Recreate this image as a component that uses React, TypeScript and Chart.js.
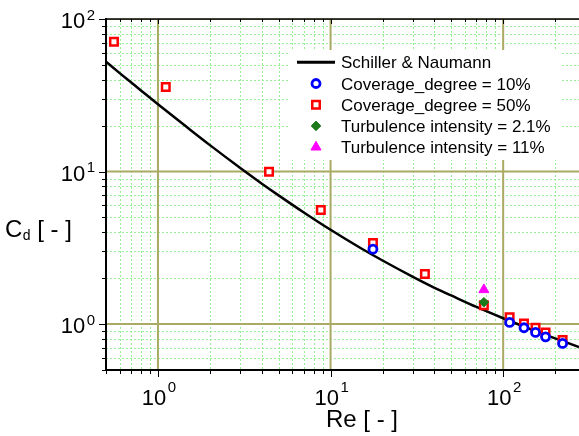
import React, { useEffect, useRef } from 'react';
import { Chart, registerables } from 'chart.js';

Chart.register(...registerables);

// ---- data ----
const curveRe = [0.5, 0.6, 0.8, 1, 1.5, 2, 3, 4, 5, 7, 10, 15, 20, 30, 40, 50, 70, 100, 150, 200, 275];
const curveCd = [52.5, 44.2, 33.9, 27.6, 19.2, 14.9, 10.55, 8.33, 6.98, 5.39, 4.15, 3.14, 2.61, 2.04, 1.73, 1.54, 1.295, 1.092, 0.91, 0.806, 0.708];

const cov10Re = [17.6, 109, 132, 154, 176, 221];
const cov10Cd = [3.1, 1.026, 0.946, 0.882, 0.825, 0.747];

const cov50Re = [0.556, 1.11, 4.4, 8.78, 17.6, 35.2, 77.3, 109, 132, 154, 176, 221];
const cov50Cd = [71, 35.8, 9.97, 5.6, 3.4, 2.13, 1.33, 1.107, 1.01, 0.946, 0.882, 0.785];

const ti21Re = [77.3];
const ti21Cd = [1.39];

const ti11Re = [77.3];
const ti11Cd = [1.68];

const seriesLabels = [
  'Schiller & Naumann',
  'Coverage_degree = 10%',
  'Coverage_degree = 50%',
  'Turbulence intensity = 2.1%',
  'Turbulence intensity = 11%',
];

const xMin = 0.5;
const xMax = 275;
const yMin = 0.5;
const yMax = 100;

const xTitle = 'Re [ - ]';
const yTitleMain = 'C';
const yTitleSub = 'd';
const yTitleRest = ' [ - ]';

const FONT = '"Liberation Sans", Arial, Helvetica, sans-serif';

const pts = (xs: number[], ys: number[]) => xs.map((x, i) => ({ x, y: ys[i] }));

function isDecade(v: number) {
  const e = Math.round(Math.log10(v));
  return Math.abs(v - Math.pow(10, e)) < 1e-9 * Math.pow(10, e);
}
function isRealTick(v: number) {
  const e = Math.floor(Math.log10(v) + 1e-9);
  const s = v / Math.pow(10, e);
  return Math.abs(s - Math.round(s)) < 1e-6;
}

function drawMarker(ctx: CanvasRenderingContext2D, style: string, x: number, y: number, r: number, fill: string, stroke: string, lw: number) {
  ctx.save();
  ctx.beginPath();
  if (style === 'circle') {
    ctx.arc(x, y, r, 0, Math.PI * 2);
  } else if (style === 'rect') {
    const s = r * Math.SQRT1_2;
    ctx.rect(x - s, y - s, 2 * s, 2 * s);
  } else if (style === 'rectRot') {
    ctx.moveTo(x - r, y);
    ctx.lineTo(x, y - r);
    ctx.lineTo(x + r, y);
    ctx.lineTo(x, y + r);
    ctx.closePath();
  } else if (style === 'triangle') {
    let a = 0;
    ctx.moveTo(x + Math.sin(a) * r, y - Math.cos(a) * r);
    a += (2 * Math.PI) / 3;
    ctx.lineTo(x + Math.sin(a) * r, y - Math.cos(a) * r);
    a += (2 * Math.PI) / 3;
    ctx.lineTo(x + Math.sin(a) * r, y - Math.cos(a) * r);
    ctx.closePath();
  }
  ctx.fillStyle = fill;
  ctx.fill();
  ctx.lineWidth = lw;
  ctx.strokeStyle = stroke;
  ctx.stroke();
  ctx.restore();
}

function drawPow(ctx: CanvasRenderingContext2D, exp: number, x: number, baseY: number, align: 'right' | 'center', baseSize: number, supSize: number, rise: number) {
  const baseFont = `${baseSize}px ${FONT}`;
  const supFont = `${supSize}px ${FONT}`;
  ctx.font = baseFont;
  const bw = ctx.measureText('10').width;
  ctx.font = supFont;
  const es = String(exp);
  const sw = ctx.measureText(es).width;
  const gap = 1.5;
  const total = bw + gap + sw;
  const x0 = align === 'right' ? x - total : x - total / 2;
  ctx.textAlign = 'left';
  ctx.textBaseline = 'alphabetic';
  ctx.fillStyle = '#000';
  ctx.font = baseFont;
  ctx.fillText('10', x0, baseY);
  ctx.font = supFont;
  ctx.fillText(es, x0 + bw + gap, baseY - rise);
}

const gridPlugin = {
  id: 'originGrid',
  beforeDatasetsDraw(chart: any) {
    const { ctx, chartArea: a, scales } = chart;
    const xs = scales.x;
    const ys = scales.y;
    ctx.save();
    ctx.beginPath();
    ctx.rect(a.left, a.top, a.right - a.left, a.bottom - a.top);
    ctx.clip();
    // minor dotted
    ctx.strokeStyle = 'rgb(150,238,150)';
    ctx.lineWidth = 1;
    ctx.setLineDash([2, 2]);
    ctx.beginPath();
    for (const t of xs.ticks) {
      if (!isRealTick(t.value) || isDecade(t.value)) continue;
      const px = Math.round(xs.getPixelForValue(t.value)) + 0.5;
      ctx.moveTo(px, a.top);
      ctx.lineTo(px, a.bottom);
    }
    for (const t of ys.ticks) {
      if (!isRealTick(t.value) || isDecade(t.value)) continue;
      const py = Math.round(ys.getPixelForValue(t.value)) + 0.5;
      ctx.moveTo(a.left, py);
      ctx.lineTo(a.right, py);
    }
    ctx.stroke();
    // major solid
    ctx.setLineDash([]);
    ctx.strokeStyle = 'rgb(170,170,100)';
    ctx.lineWidth = 2;
    ctx.beginPath();
    for (const t of xs.ticks) {
      if (!isDecade(t.value)) continue;
      const px = xs.getPixelForValue(t.value);
      ctx.moveTo(px, a.top);
      ctx.lineTo(px, a.bottom);
    }
    for (const t of ys.ticks) {
      if (!isDecade(t.value)) continue;
      const py = ys.getPixelForValue(t.value);
      ctx.moveTo(a.left, py);
      ctx.lineTo(a.right, py);
    }
    ctx.stroke();
    ctx.restore();
  },
};

const axesPlugin = {
  id: 'originAxes',
  afterDraw(chart: any) {
    const { ctx, chartArea: a, scales } = chart;
    const xs = scales.x;
    const ys = scales.y;
    ctx.save();
    ctx.strokeStyle = '#000';
    // tick marks
    ctx.lineWidth = 1;
    ctx.beginPath();
    for (const t of ys.ticks) {
      if (!isRealTick(t.value)) continue;
      const py = Math.round(ys.getPixelForValue(t.value)) + 0.5;
      const len = isDecade(t.value) ? 7 : 4;
      ctx.moveTo(a.left - len, py);
      ctx.lineTo(a.left, py);
    }
    for (const t of xs.ticks) {
      if (!isRealTick(t.value)) continue;
      const px = Math.round(xs.getPixelForValue(t.value)) + 0.5;
      const len = isDecade(t.value) ? 7 : 4;
      ctx.moveTo(px, a.bottom);
      ctx.lineTo(px, a.bottom + len);
      const tl = isDecade(t.value) ? 5 : 3;
      ctx.moveTo(px, a.top);
      ctx.lineTo(px, a.top + tl);
    }
    ctx.stroke();
    // axis lines
    ctx.lineWidth = 2;
    ctx.beginPath();
    ctx.moveTo(a.left, a.top - 1);
    ctx.lineTo(a.left, a.bottom + 1);
    ctx.moveTo(a.left - 1, a.bottom);
    ctx.lineTo(a.right, a.bottom);
    ctx.stroke();
    ctx.lineWidth = 1.5;
    ctx.beginPath();
    ctx.moveTo(a.left, a.top);
    ctx.lineTo(a.right, a.top);
    ctx.stroke();

    // tick labels
    for (const t of ys.ticks) {
      if (!isDecade(t.value)) continue;
      const py = ys.getPixelForValue(t.value);
      drawPow(ctx, Math.round(Math.log10(t.value)), a.left - 11, py + 9, 'right', 22, 15, 8.5);
    }
    for (const t of xs.ticks) {
      if (!isDecade(t.value)) continue;
      const px = xs.getPixelForValue(t.value);
      drawPow(ctx, Math.round(Math.log10(t.value)), px + 1, a.bottom + 35, 'center', 22, 15, 13);
    }

    // axis titles
    ctx.fillStyle = '#000';
    ctx.textBaseline = 'alphabetic';
    ctx.textAlign = 'center';
    ctx.font = `24px ${FONT}`;
    ctx.fillText(xTitle, 362, 427);

    ctx.textAlign = 'left';
    ctx.font = `24px ${FONT}`;
    let tx = 5;
    ctx.fillText(yTitleMain, tx, 237);
    tx += ctx.measureText(yTitleMain).width + 0.5;
    ctx.font = `14px ${FONT}`;
    ctx.fillText(yTitleSub, tx, 240);
    tx += ctx.measureText(yTitleSub).width;
    ctx.font = `24px ${FONT}`;
    ctx.fillText(yTitleRest, tx, 237);

    // legend
    ctx.fillStyle = '#fff';
    ctx.fillRect(290, 50, 270, 110);
    const datasets = chart.data.datasets;
    const rowY0 = 62.3;
    const rowH = 21.2;
    datasets.forEach((ds: any, i: number) => {
      const cy = rowY0 + i * rowH;
      if (ds.showLine) {
        ctx.strokeStyle = ds.borderColor;
        ctx.lineWidth = 3;
        ctx.beginPath();
        ctx.moveTo(297, cy);
        ctx.lineTo(335, cy);
        ctx.stroke();
      } else {
        drawMarker(ctx, ds.pointStyle, 316, cy, ds.pointRadius, ds.pointBackgroundColor, ds.pointBorderColor, ds.pointBorderWidth);
      }
      ctx.fillStyle = '#000';
      ctx.font = `17px ${FONT}`;
      ctx.textAlign = 'left';
      ctx.textBaseline = 'alphabetic';
      ctx.fillText(ds.label, 341, cy + 6);
    });
    ctx.restore();
  },
};

export default function App() {
  const ref = useRef<HTMLCanvasElement | null>(null);
  useEffect(() => {
    if (!ref.current) return;
    const chart = new Chart(ref.current, {
      type: 'scatter',
      data: {
        datasets: [
          {
            label: seriesLabels[0],
            data: pts(curveRe, curveCd),
            showLine: true,
            borderColor: '#000',
            borderWidth: 2.5,
            pointRadius: 0,
            pointHoverRadius: 0,
            fill: false,
            cubicInterpolationMode: 'monotone',
            order: 5,
          } as any,
          {
            label: seriesLabels[1],
            data: pts(cov10Re, cov10Cd),
            showLine: false,
            pointStyle: 'circle',
            pointRadius: 4,
            pointBorderWidth: 2.8,
            pointBorderColor: '#0000ff',
            pointBackgroundColor: '#ffffff',
            order: 3,
          } as any,
          {
            label: seriesLabels[2],
            data: pts(cov50Re, cov50Cd),
            showLine: false,
            pointStyle: 'rect',
            pointRadius: 5.3,
            pointBorderWidth: 2.5,
            pointBorderColor: '#ff0000',
            pointBackgroundColor: '#ffffff',
            order: 4,
          } as any,
          {
            label: seriesLabels[3],
            data: pts(ti21Re, ti21Cd),
            showLine: false,
            pointStyle: 'rectRot',
            pointRadius: 4.8,
            pointBorderWidth: 1,
            pointBorderColor: '#1b7a1b',
            pointBackgroundColor: '#1b7a1b',
            order: 2,
          } as any,
          {
            label: seriesLabels[4],
            data: pts(ti11Re, ti11Cd),
            showLine: false,
            pointStyle: 'triangle',
            pointRadius: 5.8,
            pointBorderWidth: 1,
            pointBorderColor: '#ff00ff',
            pointBackgroundColor: '#ff00ff',
            order: 1,
          } as any,
        ],
      },
      options: {
        responsive: false,
        animation: false,
        events: [],
        layout: { autoPadding: false, padding: { left: 106, top: 19, right: 0, bottom: 66 } },
        plugins: { legend: { display: false }, tooltip: { enabled: false } },
        scales: {
          x: {
            type: 'logarithmic',
            min: xMin,
            max: xMax,
            ticks: { display: false },
            grid: { display: false, drawTicks: false },
            border: { display: false },
            title: { display: false },
          },
          y: {
            type: 'logarithmic',
            min: yMin,
            max: yMax,
            ticks: { display: false },
            grid: { display: false, drawTicks: false },
            border: { display: false },
            title: { display: false },
          },
        },
      } as any,
      plugins: [gridPlugin, axesPlugin],
    });
    return () => chart.destroy();
  }, []);
  return (
    <div style={{ position: 'fixed', left: 0, top: 0, width: 579, height: 436, background: '#fff' }}>
      <canvas ref={ref} width={579} height={436} style={{ display: 'block', width: 579, height: 436 }} />
    </div>
  );
}
